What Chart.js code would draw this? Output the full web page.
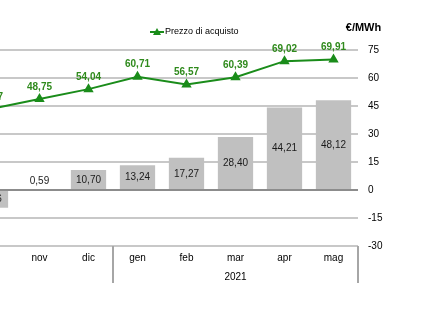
<!DOCTYPE html>
<html>
<head>
<meta charset="utf-8">
<script src="https://cdn.jsdelivr.net/npm/chart.js@4/dist/chart.umd.min.js"></script>
<style>
  html, body { margin: 0; padding: 0; background: #fff; overflow: hidden; width: 435px; height: 327px; }
  #wrap { position: absolute; left: -34px; top: 0; width: 469px; height: 327px; }
</style>
</head>
<body>
<div id="wrap"><canvas id="c" width="469" height="327"></canvas></div>
<script>
const categories = ['ott', 'nov', 'dic', 'gen', 'feb', 'mar', 'apr', 'mag'];
const barValues = [-9.56, 0.59, 10.70, 13.24, 17.27, 28.40, 44.21, 48.12];
const lineValues = [43.37, 48.75, 54.04, 60.71, 56.57, 60.39, 69.02, 69.91];
const yearLabel = '2021';
const yearStartIndex = 3;
const lineName = 'Prezzo di acquisto';
const unitLabel = '€/MWh';
const yTicks = [-30, -15, 0, 15, 30, 45, 60, 75];

const FONT = '"Liberation Sans", Arial, sans-serif';
const fmt = v => v.toFixed(2).replace('.', ',');

const overlay = {
  id: 'overlay',
  afterDatasetsDraw(chart) {
    const ctx = chart.ctx;
    const ys = chart.scales.y;
    ctx.save();
    ctx.textAlign = 'center';
    ctx.textBaseline = 'middle';
    // bar labels
    ctx.font = '10px ' + FONT;
    ctx.fillStyle = '#1a1a1a';
    chart.getDatasetMeta(0).data.forEach((el, i) => {
      const v = barValues[i];
      const y0 = ys.getPixelForValue(0);
      const y1 = ys.getPixelForValue(v);
      const ty = Math.abs(y1 - y0) < 14 ? Math.min(y0, y1) - 8 : (y0 + y1) / 2;
      ctx.fillText(fmt(v), el.x, ty);
    });
    // line labels
    ctx.font = 'bold 10px ' + FONT;
    ctx.fillStyle = '#2f8a1c';
    chart.getDatasetMeta(1).data.forEach((el, i) => {
      ctx.fillText(fmt(lineValues[i]), el.x, el.y - 12);
    });
    ctx.restore();
  },
  afterDraw(chart) {
    const ctx = chart.ctx;
    const xs = chart.scales.x;
    const area = chart.chartArea;
    ctx.save();
    // x-axis box lines
    ctx.strokeStyle = '#a6a6a6';
    ctx.lineWidth = 2;
    const sep = (xs.getPixelForValue(yearStartIndex - 1) + xs.getPixelForValue(yearStartIndex)) / 2;
    ctx.beginPath();
    ctx.moveTo(sep, area.bottom); ctx.lineTo(sep, 283);
    ctx.moveTo(area.right, area.bottom); ctx.lineTo(area.right, 283);
    ctx.stroke();
    // month labels
    ctx.font = '10px ' + FONT;
    ctx.fillStyle = '#000';
    ctx.textAlign = 'center';
    ctx.textBaseline = 'middle';
    categories.forEach((c, i) => ctx.fillText(c, xs.getPixelForValue(i), 258));
    // year label
    const last = categories.length - 1;
    ctx.fillText(yearLabel, (xs.getPixelForValue(yearStartIndex) + xs.getPixelForValue(last)) / 2, 277);
    // unit label
    ctx.font = 'bold 11px ' + FONT;
    ctx.fillText(unitLabel, area.right + 5.5, 28);
    // legend
    const lx = 184;
    ctx.strokeStyle = '#1a8c1a';
    ctx.lineWidth = 2;
    ctx.beginPath();
    ctx.moveTo(lx, 32); ctx.lineTo(lx + 14, 32);
    ctx.stroke();
    ctx.fillStyle = '#1a8c1a';
    ctx.beginPath();
    ctx.moveTo(lx + 7, 28); ctx.lineTo(lx + 11, 35); ctx.lineTo(lx + 3, 35); ctx.closePath();
    ctx.fill();
    ctx.font = '9px ' + FONT;
    ctx.fillStyle = '#000';
    ctx.textAlign = 'left';
    ctx.fillText(lineName, lx + 15, 32);
    ctx.restore();
  }
};

new Chart(document.getElementById('c'), {
  data: {
    labels: categories,
    datasets: [
      {
        type: 'bar',
        data: barValues,
        backgroundColor: '#c0c0c0',
        borderWidth: 0,
        categoryPercentage: 1,
        barPercentage: 0.72,
        order: 2
      },
      {
        type: 'line',
        label: lineName,
        data: lineValues,
        borderColor: '#1a8c1a',
        backgroundColor: '#1a8c1a',
        borderWidth: 2,
        pointStyle: 'triangle',
        pointRadius: 4,
        pointHoverRadius: 4,
        tension: 0,
        clip: false,
        order: 1
      }
    ]
  },
  options: {
    responsive: false,
    animation: false,
    events: [],
    layout: { autoPadding: false, padding: { top: 50, left: 0, right: 0, bottom: 0 } },
    plugins: { legend: { display: false }, tooltip: { enabled: false } },
    scales: {
      x: {
        type: 'category',
        offset: true,
        grid: { display: false },
        border: { display: false },
        ticks: { display: false },
        afterFit(scale) { scale.height = 81; }
      },
      y: {
        position: 'right',
        min: -30,
        max: 75,
        afterBuildTicks(scale) { scale.ticks = yTicks.map(v => ({ value: v })); },
        ticks: {
          font: { size: 10, family: FONT },
          color: '#000',
          padding: 10,
          callback: v => String(v)
        },
        grid: {
          drawTicks: false,
          lineWidth: 2,
          color: ctx => ctx.tick && ctx.tick.value === 0 ? '#8c8c8c' : '#c8c8c8'
        },
        border: { display: false },
        afterFit(scale) { scale.width = 77; }
      }
    }
  },
  plugins: [overlay]
});
</script>
</body>
</html>
